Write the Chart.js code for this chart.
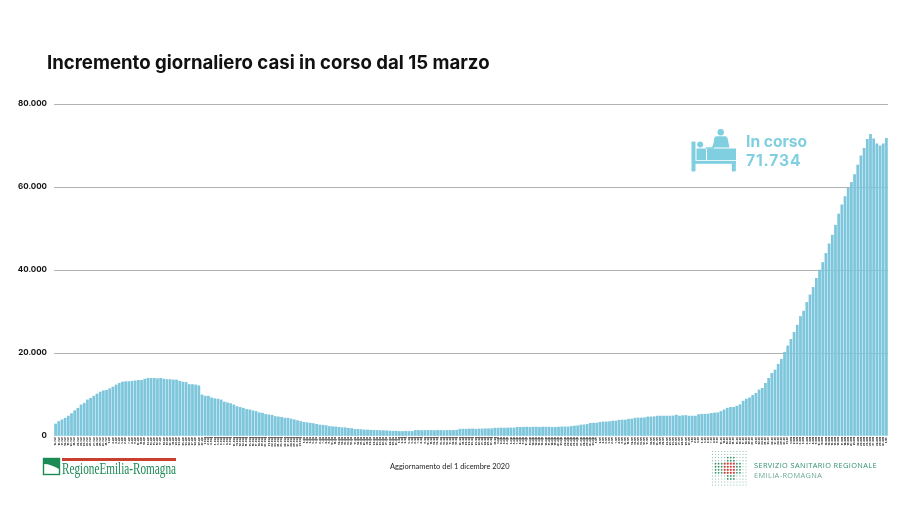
<!DOCTYPE html>
<html lang="it">
<head>
<meta charset="utf-8">
<title>Incremento giornaliero casi in corso</title>
<script src="https://cdn.jsdelivr.net/npm/chart.js@4"></script>
<style>
  html, body { margin: 0; padding: 0; background: #fff; }
  #wrap { position: relative; width: 906px; height: 509px; overflow: hidden; font-family: Inter, sans-serif; }
  #grafico { position: absolute; left: 0; top: 0; }
  #wrap > div, #wrap > svg { position: absolute; white-space: nowrap; }
  #titolo { left: 47px; top: 50px; font-size: 18.6px; line-height: 24px; font-weight: 700; color: #111; }
  #inCorso { left: 746px; top: 132px; font-size: 15.6px; line-height: 19px; font-weight: 700; color: #7fcfe0; }
  #inCorso span { letter-spacing: .9px; }
  #agg { left: 390px; top: 462px; font-family: Lato, sans-serif; font-size: 7.45px; line-height: 10px; color: #222; }
  #ssr { left: 754px; top: 460px; font-family: "Open Sans", sans-serif; font-size: 7.4px; line-height: 10px; letter-spacing: .37px; color: #2f8f73; }
  #ssr span { color: #6aa993; }
</style>
</head>
<body>
<div id="wrap">
  <canvas id="grafico" width="906" height="509"></canvas>
  <div id="titolo">Incremento giornaliero casi in corso dal 15 marzo</div>
  <svg id="letto" style="left:688px;top:126px" width="52" height="48" viewBox="688 126 52 48" fill="#7fcfe0">
    <rect x="691.500" y="141.500" width="4" height="30" rx="1"/>
    <circle cx="700.200" cy="144.500" r="3"/>
    <rect x="696.500" y="148.500" width="9.500" height="11.500"/>
    <rect x="707" y="148.500" width="29" height="11.500"/>
    <rect x="695" y="160.800" width="41" height="3"/>
    <rect x="731.800" y="163" width="4" height="8.500" rx="1"/>
    <circle cx="720.700" cy="132.300" r="3.200"/>
    <path d="M716.500 136.300h8.500c1.500 0 2.300 1 2.600 2.200l1.900 9h-16.500l1.200-8.500c.2-1.500 1-2.700 2.300-2.700z"/>
    <path d="M706 147.200h6l3.500-8 1.500 1-3.500 8.500h-7.500z"/>
  </svg>
  <div id="inCorso">In corso<br><span>71.734</span></div>
  <svg id="logoRer" style="left:40px;top:454px" width="140" height="26" viewBox="40 454 140 26">
    <rect x="43.500" y="458.500" width="16" height="16" fill="#fff" stroke="#1b8a55" stroke-width="1.400"/>
    <path d="M44 464c5 0 10 2 15 5v-10.500H44z" fill="#1b8a55"/>
    <rect x="62" y="458" width="114" height="3" fill="#c9402f"/>
    <text x="62" y="474" font-family="Liberation Serif" font-size="17" fill="#1b8a55" textLength="114" lengthAdjust="spacingAndGlyphs">RegioneEmilia-Romagna</text>
  </svg>
  <div id="agg">Aggiornamento del 1 dicembre 2020</div>
  <svg id="punti" style="left:709px;top:448px" width="40" height="40" viewBox="709 448 40 40"></svg>
  <div id="ssr">SERVIZIO SANITARIO REGIONALE<br><span>EMILIA-ROMAGNA</span></div>
</div>
<script>
// mesi del periodo: nome, primo giorno, ultimo giorno
const mesi = [['mar', 15, 31], ['apr', 1, 30], ['mag', 1, 31], ['giu', 1, 30], ['lug', 1, 31],
              ['ago', 1, 31], ['set', 1, 30], ['ott', 1, 31], ['nov', 1, 30], ['dic', 1, 1]];

// valori letti a occhio dal grafico, 15 marzo - 1 dicembre
const marzoGiugno = [
  2900, 3500, 3900, 4300, 4800, 5400, 6100, 6700, 7500, 7900, 8700, 9100, 9600, 10100, 10600, 10900, 11000,
  11400, 11800, 12300, 12700, 13000, 13100, 13100, 13200, 13300, 13400, 13400, 13700, 13900, 13900, 13900,
  13800, 13900, 13700, 13600, 13600, 13500, 13500, 13200, 13000, 12900, 12400, 12400, 12300, 12100,
  9900, 9600, 9600, 9200, 9000, 8900, 8700, 8200, 8000, 7800, 7500, 7100, 6900, 6700, 6400, 6300, 6100,
  5900, 5600, 5500, 5200, 5100, 5000, 4700, 4600, 4500, 4300, 4300, 4100, 3900, 3700, 3500, 3300, 3200,
  3100, 3000, 2800, 2650, 2600, 2500, 2300, 2250, 2200, 2100, 2000, 2000, 1850, 1800, 1600, 1600, 1550,
  1450, 1450
];
const estate = [
  1400, 1350, 1350, 1300, 1300, 1250, 1200, 1150, 1150, 1100, 1100, 1150, 1100, 1100,
  1350, 1350, 1300, 1350, 1350, 1350, 1300, 1350, 1350, 1300, 1350, 1350, 1350, 1400,
  1650, 1650, 1650, 1700, 1700, 1650, 1700, 1700, 1750, 1750, 1750,
  1900, 1900, 1950, 1900, 1950, 1950, 1950,
  2100, 2100, 2100, 2150, 2100, 2150, 2150, 2100, 2150, 2150, 2150, 2100, 2100, 2150
];
const autunno = [
  2200, 2200, 2200, 2300, 2400, 2450, 2650, 2700, 2800, 3050, 3100, 3100, 3300, 3400, 3400, 3450, 3600,
  3600, 3800, 3850, 3850, 4050, 4100, 4300, 4350, 4350, 4400, 4600, 4600, 4650, 4800, 4800, 4800, 4800,
  4800, 4850, 5050, 4800, 4900, 4950, 4800, 4800, 4800, 5150, 5250, 5250, 5300, 5450, 5550, 5600, 5900
];
const secondaOndata = [
  6300, 6700, 6900, 6900, 7200, 7550, 8400, 8900, 9200, 9800, 10300, 11100, 11500, 12700, 13900, 15100,
  15900, 17300, 18500, 20200, 21700, 23300, 25000, 26700, 28800, 30100, 32200, 34000, 35800, 38000, 40000,
  41800, 44000, 46300, 48400, 50800, 53500, 55700, 57700, 59700, 61100, 63000, 65300, 67500, 69300, 71500,
  72700, 71600, 70400, 69900, 70400, 71734
];
const tickY = [0, 20000, 40000, 60000, 80000];
const tickLabelY = ['0', '20.000', '40.000', '60.000', '80.000'];

const casiInCorso = [...marzoGiugno, ...estate, ...autunno, ...secondaOndata];

const giorni = [];
for (const [nome, da, a] of mesi) {
    for (let g = da; g <= a; g++) giorni.push(g + '-' + nome);
}

const canvas = document.getElementById('grafico');
// senza questo le etichette piccolissime escono troppo larghe
canvas.getContext('2d').textRendering = 'geometricPrecision';

new Chart(canvas, {
    type: 'bar',
    data: {
        labels: giorni,
        datasets: [{
            label: 'In corso',
            data: casiInCorso,
            backgroundColor: '#7dc6dc',
            barThickness: 2.1,
        }]
    },
    options: {
        responsive: false,
        animation: false,
        layout: { padding: { top: 104, right: 18 } },
        plugins: { legend: { display: false }, tooltip: { enabled: false } },
        scales: {
            x: {
                afterFit: s => { s.height = 73; },
                grid: { display: false, drawTicks: false },
                border: { display: false },
                ticks: {
                    autoSkip: false,
                    maxRotation: 90,
                    minRotation: 90,
                    padding: 1,
                    color: '#000',
                    font: { family: 'Inter', size: 2.5, weight: 700 },
                }
            },
            y: {
                min: 0,
                max: 80000,
                afterFit: s => { s.width = 54; },
                afterBuildTicks: s => { s.ticks = tickY.map(v => ({ value: v })); },
                grid: {
                    color: c => c.tick && c.tick.value === 0 ? 'transparent' : '#b2b2b2',
                    drawTicks: false,
                },
                border: { display: false },
                ticks: {
                    padding: 7,
                    color: '#111',
                    font: { family: 'Inter', size: 8, weight: 700 },
                    callback: v => tickLabelY[tickY.indexOf(v)],
                }
            }
        }
    }
});

// logo servizio sanitario: griglia di puntini
const punti = document.getElementById('punti');
let cerchi = '';
for (let r = 0; r < 12; r++) {
    for (let c = 0; c < 12; c++) {
        const midR = r >= 4 && r <= 7, midC = c >= 4 && c <= 7;
        let col = '#7fb8a3', rad = 0.55;
        if (midR && midC) { col = '#c8413a'; rad = 1.1; }
        else if ((midR && c >= 1 && c <= 9) || (r >= 2 && r <= 9 && c >= 5 && c <= 7)) { col = '#2f8f63'; rad = 0.9; }
        cerchi += '<circle cx="' + (712.5 + c * 3.05) + '" cy="' + (451.5 + r * 3.05) + '" r="' + rad + '" fill="' + col + '"/>';
    }
}
punti.innerHTML = cerchi;
</script>
</body>
</html>
